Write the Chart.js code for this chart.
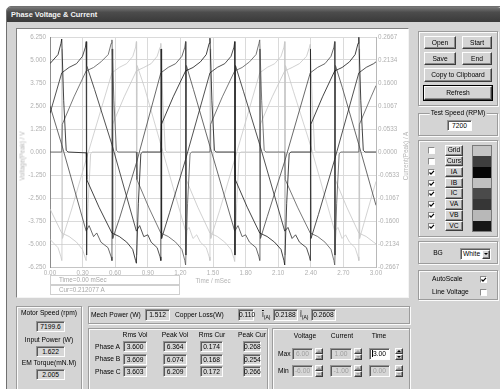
<!DOCTYPE html>
<html>
<head>
<meta charset="utf-8">
<script src="https://cdn.jsdelivr.net/npm/chart.js@4.4.1/dist/chart.umd.min.js"></script>
<style>
  html, body { margin:0; padding:0; background:#fff; }
  body { width:500px; height:389px; position:relative; overflow:hidden;
         font-family:"Liberation Sans", Arial, sans-serif; font-size:6.7px; color:#000; }
  .abs { position:absolute; }
  #win { left:6px; top:6px; width:500px; height:390px; background:#d4d4d4;
         border:1px solid #707070; border-radius:5px 5px 0 0; box-sizing:border-box; }
  #titlebar { left:7px; top:7px; width:494px; height:15px; border-radius:4px 4px 0 0;
              background:linear-gradient(#7a7a7a, #4c4c4c 35%, #3a3a3a); }
  #titletext { left:11px; top:7px; height:15px; line-height:15px; color:#f4f4f4;
               font-weight:bold; font-size:7.4px; white-space:nowrap; }
  #panel { left:16px; top:28px; width:393px; height:270px; box-sizing:border-box; background:#fff;
           border-top:1px solid #808080; border-left:1px solid #808080;
           border-right:1px solid #f4f4f4; border-bottom:1px solid #f4f4f4; }
  #cv { left:17px; top:29px; }
  .axt { color:#b4b4b4; font-size:6.3px; white-space:nowrap; }
  .info { left:50px; width:130px; height:10px; box-sizing:border-box; border:1px solid #cfcfcf;
          color:#a8a8a8; font-size:6.3px; line-height:8px; padding-left:8px; }
  .gb { box-sizing:border-box; border:1px solid #9c9c9c; box-shadow: inset 1px 1px 0 #fbfbfb, 1px 1px 0 #fbfbfb; }
  .gbl { background:#d4d4d4; padding:0 1px; white-space:nowrap; }
  .btn { box-sizing:border-box; background:#d4d4d4; text-align:center; white-space:nowrap;
         border-top:1px solid #fdfdfd; border-left:1px solid #fdfdfd;
         border-right:1px solid #3c3c3c; border-bottom:1px solid #3c3c3c;
         box-shadow: inset -1px -1px 0 #8a8a8a; }
  .tb { box-sizing:border-box; background:#d6d6d6; text-align:center; white-space:nowrap;
        border-top:1px solid #949494; border-left:1px solid #949494;
        border-right:1px solid #fdfdfd; border-bottom:1px solid #fdfdfd;
        box-shadow: inset 1px 1px 0 #5a5a5a; }
  .tb.white { background:#fff; }
  .tb.dis { color:#a0a0a0; }
  .lbl { white-space:nowrap; }
  .ck { box-sizing:border-box; width:7px; height:7px; background:#fff;
        border-top:1px solid #8a8a8a; border-left:1px solid #8a8a8a;
        border-right:1px solid #fdfdfd; border-bottom:1px solid #fdfdfd; }
  .ck svg { position:absolute; left:0; top:0; }
  .spin { box-sizing:border-box; }
  .arr { position:absolute; left:50%; margin-left:-2px; width:0; height:0;
         border-left:2px solid transparent; border-right:2px solid transparent; }
</style>
</head>
<body>
<div id="win" class="abs"></div>
<div id="titlebar" class="abs"></div>
<div id="titletext" class="abs">Phase Voltage &amp; Current</div>
<div id="panel" class="abs"></div>
<canvas id="cv" class="abs" width="391" height="268" style="width:391px;height:268px"></canvas>
<div id="ui"></div>
<script>
// ---- time axis / value axes ----
const timeTicks = [0, 0.3, 0.6, 0.9, 1.2, 1.5, 1.8, 2.1, 2.4, 2.7, 3.0];
const timeLabels = ['0.00','0.30','0.60','0.90','1.20','1.50','1.80','2.10','2.40','2.70','3.00'];
const voltTicks = [-6.25, -5, -3.75, -2.5, -1.25, 0, 1.25, 2.5, 3.75, 5, 6.25];
const voltLabels = ['-6.250','-5.000','-3.750','-2.500','-1.250','0.000','1.250','2.500','3.750','5.000','6.250'];
const curTicks = [-0.2667, -0.2134, -0.16, -0.1067, -0.0533, 0, 0.0533, 0.1067, 0.16, 0.2134, 0.2667];
const curLabels = ['-0.2667','-0.2134','-0.1600','-0.1067','-0.0533','0.0000','0.0533','0.1067','0.1600','0.2134','0.2667'];

// ---- phase voltages [time ms, volts] ----
const vaPts = [[0,2.5],[0.108,0.4],[0.333,-4.3],[0.360,-4.0],[0.401,-4.6],[0.430,-4.4],[0.469,-4.9],[0.534,-5.2],[0.563,-5.7],[0.570,-5.9],
  [0.572,5.6],[0.577,-4.7],[0.640,-3.6],[0.795,-0.6],[1.020,4.3],[1.088,4.6],[1.156,4.8],[1.214,5.2],[1.241,5.7],[1.248,6.0],
  [1.250,-5.6],[1.255,4.7],[1.320,3.4],[1.472,0.3],[1.700,-4.3],[1.730,-4.0],[1.768,-4.6],[1.800,-4.5],[1.836,-4.9],[1.896,-5.2],[1.923,-5.7],[1.930,-5.9],
  [1.932,5.6],[1.937,-4.7],[2.000,-3.5],[2.160,-0.5],[2.395,4.3],[2.463,4.6],[2.530,4.8],[2.586,5.2],[2.613,5.7],[2.620,6.0],
  [2.622,-5.6],[2.627,4.7],[2.690,3.5],[2.842,0.4],[3.0,-2.9]];
const vbPts = [[0,-4.75],[0.074,-5.2],[0.101,-5.7],[0.108,-5.9],[0.110,5.6],[0.115,-4.7],[0.200,-3.1],[0.333,-0.4],
  [0.570,4.3],[0.638,4.6],[0.705,4.8],[0.762,5.2],[0.788,5.7],[0.795,6.0],[0.797,-5.6],[0.802,4.7],[0.870,3.5],[1.020,0.4],
  [1.248,-4.3],[1.280,-4.1],[1.316,-4.7],[1.350,-4.5],[1.384,-4.9],[1.438,-5.2],[1.465,-5.7],[1.472,-5.9],[1.474,5.6],[1.479,-4.7],[1.560,-3.2],[1.700,-0.4],
  [1.930,4.3],[1.999,4.6],[2.068,4.8],[2.126,5.2],[2.153,5.7],[2.160,6.0],[2.162,-5.6],[2.167,4.7],[2.240,3.3],[2.395,0.4],
  [2.620,-4.3],[2.650,-4.1],[2.688,-4.7],[2.720,-4.5],[2.756,-4.9],[2.808,-5.2],[2.835,-5.7],[2.842,-5.9],[2.844,5.6],[2.849,-4.7],[3.0,-1.6]];
const vcPts = [[0,2.1],[0.108,4.3],[0.176,4.6],[0.244,4.8],[0.299,5.2],[0.326,5.7],[0.333,6.0],[0.335,-5.6],[0.340,4.7],
  [0.410,3.4],[0.570,0.4],[0.795,-4.3],[0.825,-4.0],[0.863,-4.6],[0.900,-4.5],[0.931,-4.9],[0.986,-5.2],[1.013,-5.7],[1.020,-5.9],[1.022,5.6],[1.027,-4.7],
  [1.100,-3.3],[1.248,-0.4],[1.472,4.3],[1.540,4.6],[1.608,4.8],[1.666,5.2],[1.693,5.7],[1.700,6.0],[1.702,-5.6],[1.707,4.7],
  [1.780,3.3],[1.930,0.4],[2.160,-4.3],[2.190,-4.1],[2.228,-4.7],[2.260,-4.5],[2.296,-4.9],[2.360,-5.2],[2.388,-5.7],[2.395,-5.9],[2.397,5.6],[2.402,-4.7],
  [2.470,-3.4],[2.620,-0.4],[2.842,4.3],[2.910,4.6],[2.978,4.8],[3.0,4.9]];

// ---- phase currents [time ms, amps] ----
const iaPts = [[0,0.205],[0.074,0.226],[0.101,0.252],[0.108,0.262],[0.126,0.119],[0.149,0.004],[0.165,0],[0.333,-0.002],
  [0.338,-0.064],[0.451,-0.128],[0.570,-0.188],[0.638,-0.196],[0.706,-0.209],[0.761,-0.226],[0.788,-0.252],[0.795,-0.258],
  [0.813,-0.119],[0.836,-0.004],[0.852,0],[1.020,0],[1.025,0.064],[1.134,0.128],[1.248,0.188],[1.316,0.196],[1.384,0.209],
  [1.438,0.226],[1.465,0.252],[1.472,0.264],[1.490,0.119],[1.513,0.004],[1.529,0],[1.700,0],[1.705,-0.064],[1.815,-0.128],
  [1.930,-0.188],[1.998,-0.196],[2.066,-0.209],[2.126,-0.226],[2.153,-0.252],[2.160,-0.262],[2.178,-0.119],[2.201,-0.004],
  [2.217,0],[2.395,0],[2.400,0.064],[2.508,0.128],[2.620,0.188],[2.688,0.196],[2.756,0.209],[2.808,0.226],[2.835,0.252],
  [2.842,0.266],[2.860,0.119],[2.883,0.004],[2.899,0],[3.0,0]];
const ibPts = [[0,-0.132],[0.108,-0.188],[0.176,-0.196],[0.244,-0.209],[0.299,-0.226],[0.326,-0.247],[0.333,-0.252],
  [0.351,-0.119],[0.374,-0.004],[0.390,0],[0.570,0],[0.575,0.064],[0.683,0.128],[0.795,0.188],[0.863,0.196],[0.931,0.205],
  [0.986,0.222],[1.013,0.243],[1.020,0.252],[1.038,0.119],[1.061,0.004],[1.077,0],[1.248,0],[1.253,-0.064],[1.360,-0.128],
  [1.472,-0.188],[1.540,-0.196],[1.608,-0.209],[1.666,-0.226],[1.693,-0.247],[1.700,-0.254],[1.718,-0.119],[1.741,-0.004],
  [1.757,0],[1.930,0],[1.935,0.064],[2.045,0.128],[2.160,0.188],[2.228,0.196],[2.296,0.205],[2.361,0.222],[2.388,0.243],
  [2.395,0.250],[2.413,0.119],[2.436,0.004],[2.452,0],[2.620,0],[2.625,-0.064],[2.731,-0.128],[2.842,-0.188],[2.910,-0.196],
  [2.978,-0.209],[3.0,-0.213]];
const icPts = [[0,0],[0.108,0],[0.113,0.064],[0.221,0.128],[0.333,0.188],[0.401,0.196],[0.469,0.209],[0.536,0.226],
  [0.563,0.252],[0.570,0.260],[0.588,0.119],[0.611,0.004],[0.627,0],[0.795,0],[0.800,-0.064],[0.908,-0.128],[1.020,-0.188],
  [1.088,-0.196],[1.156,-0.209],[1.214,-0.226],[1.241,-0.252],[1.248,-0.262],[1.266,-0.119],[1.289,-0.004],[1.305,0],
  [1.472,0],[1.477,0.064],[1.586,0.128],[1.700,0.188],[1.768,0.196],[1.836,0.209],[1.896,0.226],[1.923,0.252],[1.930,0.260],
  [1.948,0.119],[1.971,0.004],[1.987,0],[2.160,0],[2.165,-0.064],[2.278,-0.128],[2.395,-0.188],[2.463,-0.196],[2.530,-0.209],
  [2.586,-0.226],[2.613,-0.252],[2.620,-0.262],[2.638,-0.119],[2.661,-0.004],[2.677,0],[2.842,0],[2.847,0.064],[2.955,0.128],
  [3.0,0.154]];

// trace colours, same order as the colour swatches
const traceColors = { IA:'#141414', IB:'#c4c4c4', IC:'#575757', VA:'#444444', VB:'#c8c8c8', VC:'#262626' };

const toXY = pts => pts.map(([x, y]) => ({ x, y }));
const line = (label, pts, axis) => ({
  label, data: toXY(pts), yAxisID: axis, borderColor: traceColors[label], backgroundColor: traceColors[label],
  borderWidth: 0.8, pointRadius: 0, tension: 0, fill: false
});

const tickFont = { family: '"Liberation Sans", Arial, sans-serif', size: 6.3 };
const fixTicks = (vals) => (scale) => { scale.ticks = vals.map(v => ({ value: v })); };

new Chart(document.getElementById('cv'), {
  type: 'line',
  data: {
    datasets: [
      line('IA', iaPts, 'y1'),
      line('VC', vcPts, 'y'),
      line('VA', vaPts, 'y'),
      line('IC', icPts, 'y1'),
      line('IB', ibPts, 'y1'),
      line('VB', vbPts, 'y')
    ]
  },
  options: {
    responsive: false, animation: false, events: [],
    layout: { padding: { top: 8, bottom: 8, left: 0, right: 0 } },
    plugins: { legend: { display: false }, tooltip: { enabled: false } },
    scales: {
      x: {
        type: 'linear', min: 0, max: 3,
        afterBuildTicks: fixTicks(timeTicks),
        afterFit: s => { s.height = 22; },
        grid: { color: '#dadada', drawTicks: false },
        border: { color: '#c4c4c4' },
        ticks: { color: '#b0b0b0', font: tickFont, padding: 2, maxRotation: 0, autoSkip: false,
                 callback: (v, i) => timeLabels[i] }
      },
      y: {
        type: 'linear', position: 'left', min: -6.25, max: 6.25,
        afterBuildTicks: fixTicks(voltTicks),
        afterFit: s => { s.width = 33; },
        grid: { color: '#dadada', drawTicks: false },
        border: { color: '#8c8c8c' },
        ticks: { color: '#b0b0b0', font: tickFont, padding: 4, autoSkip: false,
                 callback: (v, i) => voltLabels[i] }
      },
      y1: {
        type: 'linear', position: 'right', min: -0.2667, max: 0.2667,
        afterBuildTicks: fixTicks(curTicks),
        afterFit: s => { s.width = 32; },
        grid: { display: false, drawTicks: false },
        border: { color: '#b8b8b8' },
        ticks: { color: '#b0b0b0', font: tickFont, padding: 2, autoSkip: false,
                 callback: (v, i) => curLabels[i] }
      }
    }
  }
});

// ---- surrounding dialog controls ----
const ui = document.getElementById('ui');
function el(cls, x, y, w, h, html, extra) {
  const d = document.createElement('div');
  d.className = 'abs ' + cls;
  d.style.left = x + 'px'; d.style.top = y + 'px';
  if (w != null) d.style.width = w + 'px';
  if (h != null) { d.style.height = h + 'px'; d.style.lineHeight = (h - 2) + 'px'; }
  if (html != null) d.innerHTML = html;
  if (extra) Object.assign(d.style, extra);
  ui.appendChild(d);
  return d;
}
function label(text, x, cy, align) {
  const d = el('lbl', x, cy - 5, null, null, text, { height: '10px', lineHeight: '10px' });
  if (align === 'center') d.style.transform = 'translateX(-50%)';
  return d;
}
function checkbox(x, y, checked) {
  const d = el('ck', x, y, null, null);
  if (checked) d.innerHTML = '<svg width="6" height="6"><polyline points="0.5,2.5 2,4.2 5,0.8" stroke="#000" stroke-width="1.2" fill="none"/></svg>';
  return d;
}
function spinner(x, y, h, enabled) {
  const c = enabled ? '#000' : '#a0a0a0';
  const half = h / 2;
  const up = el('btn spin', x, y, 8, half, '');
  up.innerHTML = '<div class="arr" style="top:' + (half / 2 - 2) + 'px;border-bottom:2px solid ' + c + '"></div>';
  const dn = el('btn spin', x, y + half, 8, half, '');
  dn.innerHTML = '<div class="arr" style="top:' + (half / 2 - 2) + 'px;border-top:2px solid ' + c + '"></div>';
}

// axis titles and cursor read-outs
el('axt', 21.5, 156, null, null, 'Voltage(Peak) / V', { transform: 'translate(-50%,-50%) rotate(-90deg)' });
el('axt', 405, 156, null, null, 'Current(Peak) / A', { transform: 'translate(-50%,-50%) rotate(-90deg)' });
el('axt', 213, 280, null, null, 'Time / mSec', { transform: 'translate(-50%,-50%)' });
el('info', 50, 275, null, null, 'Time=0.00 mSec');
el('info', 50, 285, null, null, 'Cur=0.212077 A');

// right side: file buttons
el('gb', 418, 31, 80, 75);
el('btn', 424, 36, 32, 13, 'Open');
el('btn', 462, 36, 30, 13, 'Start');
el('btn', 424, 52, 32, 13, 'Save');
el('btn', 462, 52, 30, 13, 'End');
el('btn', 424, 68, 68, 14, 'Copy to Clipboard');
el('btn', 424, 86, 68, 14, 'Refresh', { outline: '1px solid #000' });

// test speed
el('gb', 418, 113, 80, 23);
label('<span class="gbl">Test Speed (RPM)</span>', 458, 113, 'center');
el('tb white', 447, 120, 25, 11, '7200');

// trace selection with colours
const traceRows = ['Grid', 'Curs', 'IA', 'IB', 'IC', 'VA', 'VB', 'VC'];
const rowOn = [false, false, true, true, true, true, true, true];
const swatch = { Grid:'#c4c4c4', Curs:'#3e3e3e', IA:'#060606', IB:'#c0c0c0', IC:'#4a4a4a', VA:'#363636', VB:'#b8b8b8', VC:'#161616' };
el('gb', 418, 140, 80, 97);
traceRows.forEach((name, i) => {
  const top = 145 + i * 10.85;
  checkbox(428, top + 2, rowOn[i]);
  el('btn', 445, top, 18, 10.5, name);
  el('', 472, top, 20, 10.85, '', { background: swatch[name] });
});
el('', 472, 145, 20, 86.8, '', { boxSizing: 'border-box', border: '1px solid #7a7a7a' });

// background selector
el('gb', 418, 241, 80, 23);
label('BG', 438, 253, 'center');
el('tb white', 460, 248, 31, 12, 'White&nbsp;&nbsp;&nbsp;&nbsp;', { textAlign: 'left', paddingLeft: '2px' });
const dd = el('btn', 482, 249.5, 8, 9, '');
dd.innerHTML = '<div class="arr" style="top:2.5px;border-top:2px solid #000"></div>';

// scaling options
el('gb', 418, 270, 80, 30);
label('AutoScale', 432, 279);
checkbox(480, 275.5, true);
label('Line Voltage', 432, 292);
checkbox(480, 288.5, false);

// bottom: speed / power / torque
el('gb', 16, 306, 66, 84);
label('Motor Speed (rpm)', 49, 313, 'center');
el('tb', 36, 321, 29, 11, '7199.6');
label('Input Power (W)', 49, 340, 'center');
el('tb', 36, 346, 29, 11, '1.622');
label('EM Torque(mN.M)', 49, 363, 'center');
el('tb', 36, 369, 29, 11, '2.005');

// mechanical power / losses / current
el('gb', 88, 306, 322, 18);
label('Mech Power (W)', 91, 315);
el('tb', 145, 309, 25, 12, '1.512');
label('Copper Loss(W)', 175, 315);
el('tb', 238, 309, 16, 12, '0.110');
label('<span style="text-decoration:overline">I</span><sub style="font-size:5px">(A)</sub>', 262, 315);
el('tb', 273, 309, 25, 12, '0.2188');
label('Î<sub style="font-size:5px">(A)</sub>', 300, 315);
el('tb', 311, 309, 25, 12, '0.2608');

// per-phase table
const phaseNames = ['Phase A', 'Phase B', 'Phase C'];
const rmsVol = ['3.600', '3.609', '3.603'];
const peakVol = ['6.364', '6.074', '6.209'];
const rmsCur = ['0.174', '0.168', '0.172'];
const peakCur = ['0.268', '0.254', '0.266'];
el('gb', 88, 328, 180, 62);
label('Rms Vol', 135, 335, 'center');
label('Peak Vol', 175, 335, 'center');
label('Rms Cur', 212, 335, 'center');
label('Peak Cur', 252, 335, 'center');
phaseNames.forEach((p, i) => {
  const top = 341 + i * 12.5;
  label(p, 95, top + 5.5);
  el('tb', 123, top, 24, 11, rmsVol[i]);
  el('tb', 163, top, 24, 11, peakVol[i]);
  el('tb', 200, top, 23, 11, rmsCur[i]);
  el('tb', 243, top, 18, 11, peakCur[i]);
});

// display limits
el('gb', 272, 328, 138, 62);
label('Voltage', 305, 336, 'center');
label('Current', 342, 336, 'center');
label('Time', 379, 336, 'center');
label('Max', 278, 354);
label('Min', 278, 371);
el('tb dis', 292, 348, 21, 12, '6.00');
spinner(315, 348, 12, false);
el('tb dis', 330, 348, 22, 12, '1.00');
spinner(354, 348, 12, false);
el('tb white', 369, 348, 21, 12, '<span style="border-left:1px solid #000">3</span>.00', { textAlign: 'left', paddingLeft: '2px' });
spinner(395, 348, 12, true);
el('tb dis', 292, 365, 21, 12, '-6.00');
spinner(315, 365, 12, false);
el('tb dis', 330, 365, 22, 12, '-1.00');
spinner(354, 365, 12, false);
el('tb dis', 369, 365, 21, 12, '0.00');
spinner(395, 365, 12, false);
</script>
</body>
</html>
